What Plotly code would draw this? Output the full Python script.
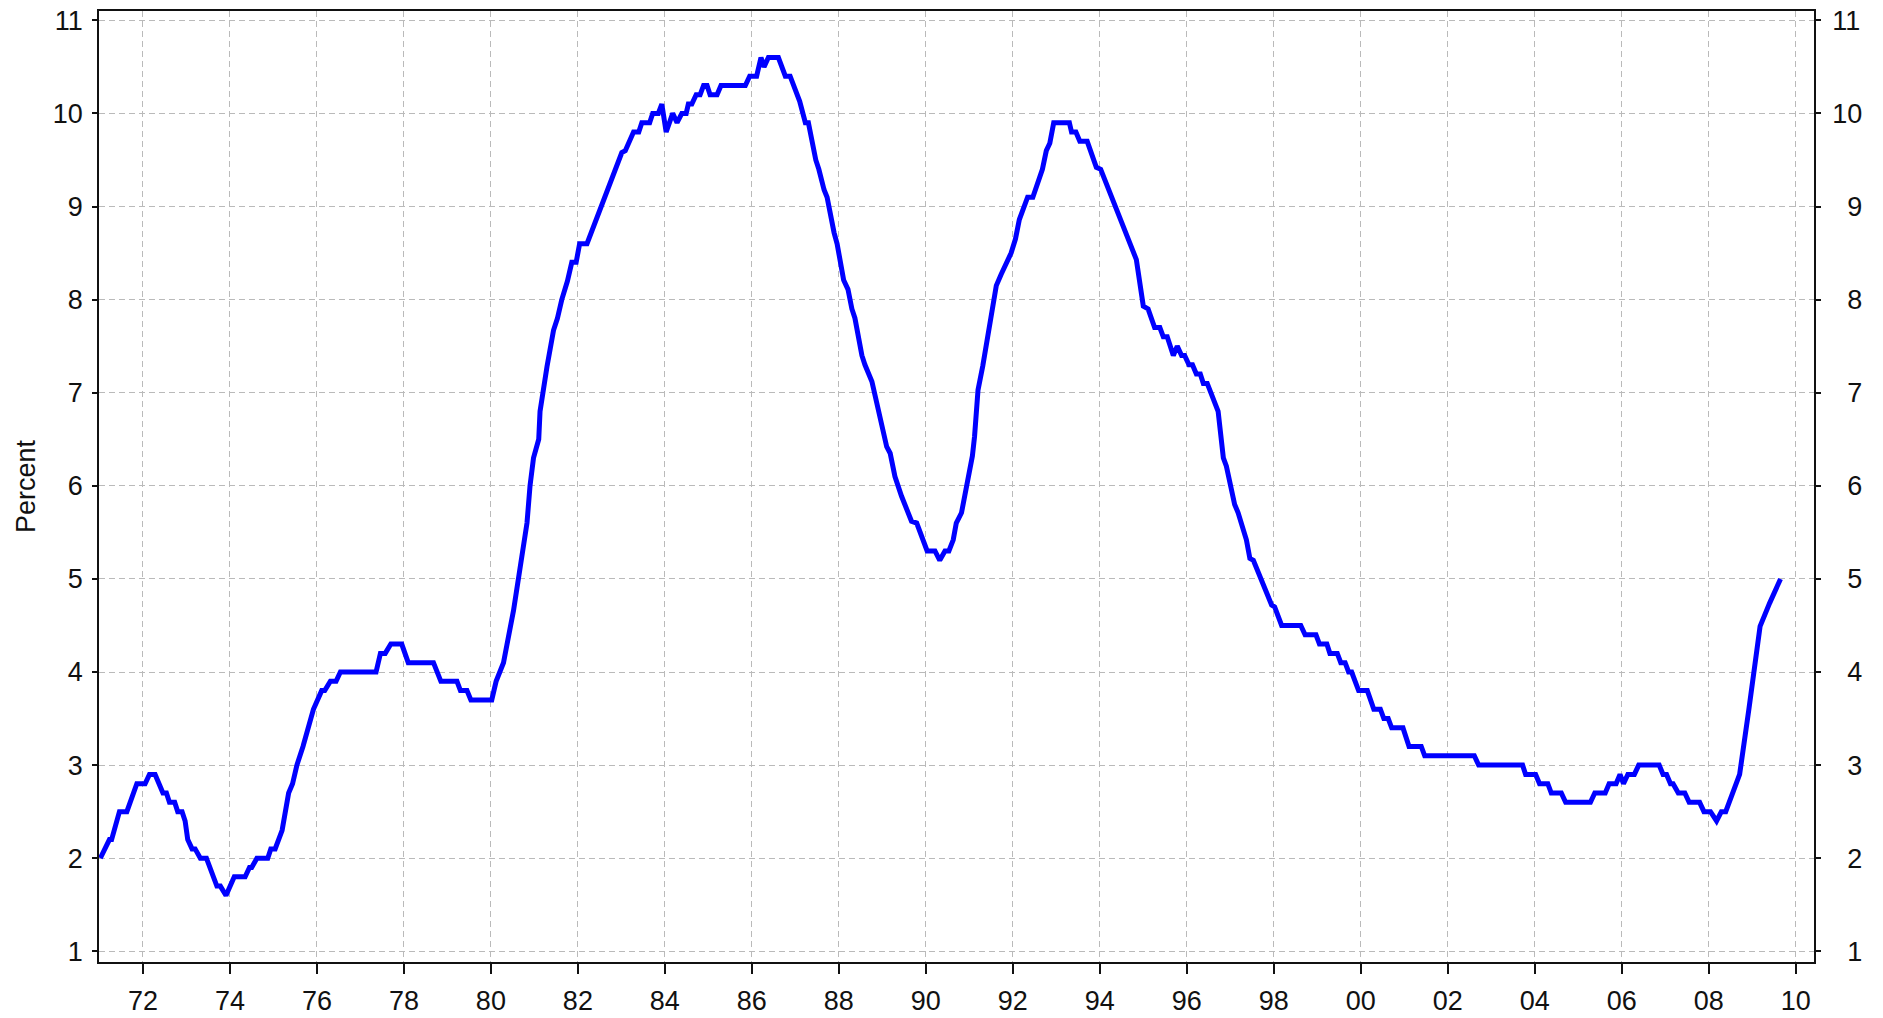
import plotly.graph_objects as go

# Vertices of the line (decimal year, percent)
t_year = [
    1971.02, 1971.23, 1971.28, 1971.46, 1971.63, 1971.86, 1972.05, 1972.15, 1972.28, 1972.46,
    1972.54, 1972.61, 1972.73, 1972.80, 1972.90, 1972.97, 1973.03, 1973.13, 1973.20, 1973.32,
    1973.46, 1973.70, 1973.78, 1973.91, 1974.10, 1974.35, 1974.45, 1974.50, 1974.62, 1974.87,
    1974.94, 1975.04, 1975.20, 1975.35, 1975.44, 1975.54, 1975.68, 1975.79, 1975.92, 1976.11,
    1976.18, 1976.31, 1976.44, 1976.54, 1977.36, 1977.46, 1977.57, 1977.70, 1977.95, 1978.10,
    1978.68, 1978.85, 1979.22, 1979.30, 1979.45, 1979.54, 1980.02, 1980.12, 1980.29, 1980.52,
    1980.67, 1980.83, 1980.90, 1980.98, 1981.10, 1981.13, 1981.29, 1981.44, 1981.53, 1981.63,
    1981.76, 1981.86, 1981.96, 1982.04, 1982.21, 1983.01, 1983.09, 1983.28, 1983.40, 1983.47,
    1983.65, 1983.72, 1983.85, 1983.93, 1984.03, 1984.18, 1984.28, 1984.39, 1984.49, 1984.54,
    1984.62, 1984.72, 1984.81, 1984.89, 1984.97, 1985.04, 1985.20, 1985.29, 1985.85, 1985.95,
    1986.11, 1986.21, 1986.28, 1986.38, 1986.61, 1986.77, 1986.88, 1987.10, 1987.23, 1987.30,
    1987.47, 1987.54, 1987.66, 1987.73, 1987.89, 1987.96, 1988.11, 1988.21, 1988.30, 1988.37,
    1988.53, 1988.60, 1988.76, 1988.84, 1988.95, 1989.02, 1989.10, 1989.18, 1989.29, 1989.44,
    1989.67, 1989.79, 1990.03, 1990.21, 1990.32, 1990.44, 1990.53, 1990.63, 1990.70, 1990.82,
    1990.93, 1991.07, 1991.12, 1991.20, 1991.31, 1991.62, 1991.73, 1991.96, 1992.06, 1992.15,
    1992.34, 1992.46, 1992.68, 1992.77, 1992.85, 1992.94, 1993.30, 1993.35, 1993.45, 1993.54,
    1993.71, 1993.92, 1994.02, 1994.84, 1995.00, 1995.11, 1995.26, 1995.38, 1995.46, 1995.55,
    1995.69, 1995.78, 1995.88, 1995.95, 1996.05, 1996.13, 1996.22, 1996.31, 1996.38, 1996.47,
    1996.72, 1996.84, 1996.91, 1997.10, 1997.18, 1997.30, 1997.37, 1997.45, 1997.53, 1997.95,
    1998.02, 1998.18, 1998.62, 1998.72, 1998.97, 1999.05, 1999.22, 1999.29, 1999.46, 1999.54,
    1999.64, 1999.72, 1999.79, 1999.95, 2000.15, 2000.30, 2000.45, 2000.53, 2000.63, 2000.71,
    2000.97, 2001.11, 2001.39, 2001.47, 2002.61, 2002.71, 2003.72, 2003.79, 2004.02, 2004.11,
    2004.30, 2004.38, 2004.61, 2004.71, 2005.28, 2005.38, 2005.62, 2005.71, 2005.87, 2005.96,
    2006.04, 2006.14, 2006.29, 2006.39, 2006.86, 2006.95, 2007.03, 2007.12, 2007.18, 2007.30,
    2007.45, 2007.55, 2007.79, 2007.89, 2008.04, 2008.18, 2008.29, 2008.39, 2008.71, 2008.92,
    2009.03, 2009.13, 2009.18, 2009.40, 2009.65,
]
rate = [
    2.0, 2.2, 2.2, 2.5, 2.5, 2.8, 2.8, 2.9, 2.9, 2.7,
    2.7, 2.6, 2.6, 2.5, 2.5, 2.4, 2.2, 2.1, 2.1, 2.0,
    2.0, 1.7, 1.7, 1.6, 1.8, 1.8, 1.9, 1.9, 2.0, 2.0,
    2.1, 2.1, 2.3, 2.7, 2.8, 3.0, 3.2, 3.4, 3.6, 3.8,
    3.8, 3.9, 3.9, 4.0, 4.0, 4.2, 4.2, 4.3, 4.3, 4.1,
    4.1, 3.9, 3.9, 3.8, 3.8, 3.7, 3.7, 3.9, 4.1, 4.66,
    5.15, 5.6, 6.0, 6.3, 6.5, 6.8, 7.28, 7.67, 7.8, 8.0,
    8.2, 8.4, 8.4, 8.6, 8.6, 9.58, 9.6, 9.8, 9.8, 9.9,
    9.9, 10.0, 10.0, 10.1, 9.8, 10.0, 9.9, 10.0, 10.0, 10.1,
    10.1, 10.2, 10.2, 10.3, 10.3, 10.2, 10.2, 10.3, 10.3, 10.4,
    10.4, 10.6, 10.5, 10.6, 10.6, 10.4, 10.4, 10.13, 9.9, 9.9,
    9.5, 9.4, 9.18, 9.1, 8.72, 8.6, 8.21, 8.11, 7.9, 7.8,
    7.4, 7.3, 7.12, 6.96, 6.71, 6.62, 6.42, 6.35, 6.1, 5.89,
    5.62, 5.6, 5.3, 5.3, 5.2, 5.3, 5.3, 5.42, 5.6, 5.71,
    6.0, 6.32, 6.53, 7.03, 7.29, 8.15, 8.27, 8.5, 8.65, 8.86,
    9.1, 9.1, 9.4, 9.6, 9.68, 9.9, 9.9, 9.8, 9.8, 9.7,
    9.7, 9.42, 9.4, 8.43, 7.93, 7.9, 7.7, 7.7, 7.6, 7.6,
    7.4, 7.5, 7.4, 7.4, 7.3, 7.3, 7.2, 7.2, 7.1, 7.1,
    6.8, 6.3, 6.21, 5.8, 5.71, 5.5, 5.42, 5.22, 5.2, 4.72,
    4.7, 4.5, 4.5, 4.4, 4.4, 4.3, 4.3, 4.2, 4.2, 4.1,
    4.1, 4.0, 4.0, 3.8, 3.8, 3.6, 3.6, 3.5, 3.5, 3.4,
    3.4, 3.2, 3.2, 3.1, 3.1, 3.0, 3.0, 2.9, 2.9, 2.8,
    2.8, 2.7, 2.7, 2.6, 2.6, 2.7, 2.7, 2.8, 2.8, 2.9,
    2.8, 2.9, 2.9, 3.0, 3.0, 2.9, 2.9, 2.8, 2.8, 2.7,
    2.7, 2.6, 2.6, 2.5, 2.5, 2.4, 2.5, 2.5, 2.9, 3.59,
    3.98, 4.31, 4.49, 4.74, 5.0,
]

x_tick_vals = [1972, 1974, 1976, 1978, 1980, 1982, 1984, 1986, 1988, 1990,
               1992, 1994, 1996, 1998, 2000, 2002, 2004, 2006, 2008, 2010]
x_tick_text = ["72", "74", "76", "78", "80", "82", "84", "86", "88", "90",
               "92", "94", "96", "98", "00", "02", "04", "06", "08", "10"]
y_tick_vals = [1, 2, 3, 4, 5, 6, 7, 8, 9, 10, 11]
y_tick_text = ["1", "2", "3", "4", "5", "6", "7", "8", "9", "10", "11"]
y_title = "Percent"

X_RANGE = [1970.99, 2010.42]
Y_RANGE = [0.885, 11.10]
FONT = "Liberation Sans, Arial, Helvetica, sans-serif"
GRID = "#bababa"
FS = 27

# right-hand labels are right aligned in the reference: pad to equal width
y_tick_text_right = [("\u00a0\u00a0" + t) if len(t) == 1 else t for t in y_tick_text]

fig = go.Figure()
fig.add_trace(go.Scatter(
    x=t_year, y=rate, mode="lines",
    line=dict(color="#0000ff", width=5),
    showlegend=False,
))
# same series attached to the right axis (invisible) so that axis is drawn
fig.add_trace(go.Scatter(
    x=t_year, y=rate, mode="lines", yaxis="y2",
    line=dict(color="rgba(0,0,0,0)", width=0),
    hoverinfo="skip", showlegend=False,
))

axis_common = dict(
    showline=True, linecolor="#111111", linewidth=1.5,
    ticks="outside", tickcolor="#111111", tickwidth=1.5,
    tickfont=dict(family=FONT, size=FS, color="#111111"),
    zeroline=False, automargin=False,
)

fig.update_layout(
    width=1883, height=1018,
    margin=dict(l=99, r=69, t=11, b=56),
    paper_bgcolor="white", plot_bgcolor="white",
    font=dict(family=FONT, color="#111111"),
    xaxis=dict(
        range=X_RANGE, tickmode="array", tickvals=x_tick_vals, ticktext=x_tick_text,
        ticklen=10, mirror=True, showgrid=True, gridcolor=GRID, gridwidth=1.4,
        griddash="6px,4px", ticklabelstandoff=4, **axis_common,
    ),
    yaxis=dict(
        range=Y_RANGE, tickmode="array", tickvals=y_tick_vals, ticktext=y_tick_text,
        ticklen=5, mirror=True, showgrid=True, gridcolor=GRID, gridwidth=1.4,
        griddash="6px,4px", ticklabelstandoff=4,
        title=dict(text=y_title, font=dict(family=FONT, size=FS, color="#111111"), standoff=9),
        **axis_common,
    ),
    yaxis2=dict(
        range=Y_RANGE, tickmode="array", tickvals=y_tick_vals, ticktext=y_tick_text_right,
        overlaying="y", side="right", anchor="x",
        ticklen=5, showgrid=False, ticklabelstandoff=6,
        **axis_common,
    ),
)

fig.write_html(
    "out.html",
    config={"displayModeBar": False},
    post_script="document.body.style.margin='0';document.body.style.overflow='hidden';",
)
